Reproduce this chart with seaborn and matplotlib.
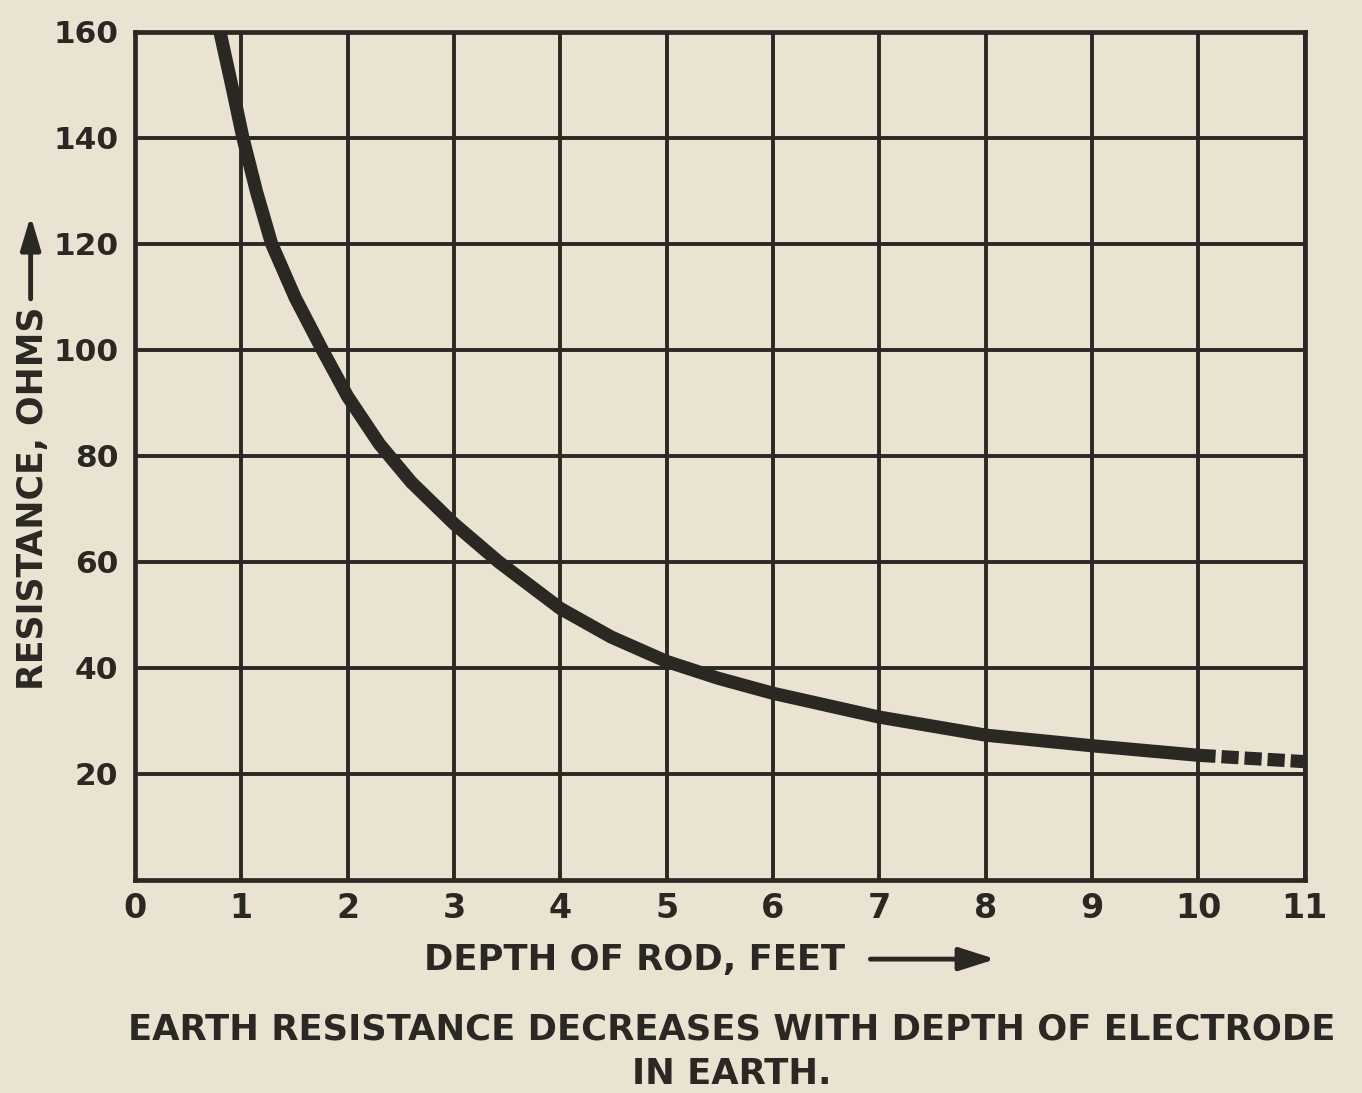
import matplotlib
matplotlib.use("Agg")
import matplotlib.pyplot as plt
from matplotlib.patches import FancyArrowPatch
import seaborn as sns
import pandas as pd

# Earth resistance vs. rod depth (solid part of the curve)
depth_ft = [0.80, 0.915, 1.016, 1.143, 1.286, 1.508, 1.762, 2.00, 2.30, 2.60,
            3.00, 3.42, 4.00, 4.48, 5.00, 5.49, 6.00, 7.00, 8.00, 9.00, 10.00]
resistance_ohms = [160, 149.5, 140, 129.9, 120, 109.8, 100, 91.2, 82.2, 75.0,
                   67.2, 60, 51.2, 45.8, 41.2, 38.0, 35.2, 30.7, 27.3, 25.3, 23.5]

# Extrapolated tail, drawn dashed
tail_depth_ft = [10.0, 10.5, 11.0]
tail_resistance_ohms = [23.5, 22.9, 22.3]

x_ticks = list(range(0, 12))
y_ticks = [20, 40, 60, 80, 100, 120, 140, 160]

paper = "#ebe3d2"
ink = "#2b2824"

sns.set_theme(style="ticks")
plt.rcParams["font.family"] = ["DejaVu Sans"]
plt.rcParams["font.weight"] = "bold"

fig = plt.figure(figsize=(13.62, 10.93), dpi=100, facecolor=paper)
ax = fig.add_axes([0.099, 0.195, 0.859, 0.776])
ax.set_facecolor(paper)

solid = pd.DataFrame({"depth": depth_ft, "resistance": resistance_ohms})
tail = pd.DataFrame({"depth": tail_depth_ft, "resistance": tail_resistance_ohms})

sns.lineplot(data=solid, x="depth", y="resistance", ax=ax, color=ink,
             linewidth=9.5, solid_capstyle="butt", solid_joinstyle="round",
             sort=False, zorder=5)
sns.lineplot(data=tail, x="depth", y="resistance", ax=ax, color=ink,
             linewidth=9.5, sort=False, zorder=5)
ax.lines[-1].set_linestyle((0, (1.3, 0.45)))
ax.lines[-1].set_dash_capstyle("butt")

ax.set_xlim(0, 11)
ax.set_ylim(0, 160)
ax.set_xticks(x_ticks)
ax.set_yticks(y_ticks)
ax.set_xticklabels([str(v) for v in x_ticks], fontsize=24, fontweight="bold", color=ink)
ax.set_yticklabels([str(v) for v in y_ticks], fontsize=22.5, fontweight="bold", color=ink)
ax.tick_params(axis="x", length=0, pad=9)
ax.tick_params(axis="y", length=0, pad=12)
ax.grid(True, color=ink, linewidth=2.8)
ax.set_axisbelow(True)
for side in ["left", "right", "top", "bottom"]:
    ax.spines[side].set_visible(True)
    ax.spines[side].set_color(ink)
    ax.spines[side].set_linewidth(3.4)
ax.set_xlabel("")
ax.set_ylabel("")

# Axis titles with arrows
fig.text(0.311, 0.122, "DEPTH OF ROD, FEET", fontsize=25.5, fontweight="bold",
         color=ink, ha="left", va="center")
fig.add_artist(FancyArrowPatch(
    (0.637, 0.1225), (0.733, 0.1225), transform=fig.transFigure,
    arrowstyle="-|>,head_length=22,head_width=7", color=ink, linewidth=3.5,
    mutation_scale=1))

fig.text(0.024, 0.369, "RESISTANCE, OHMS", fontsize=25, fontweight="bold",
         color=ink, ha="center", va="bottom", rotation=90)
fig.add_artist(FancyArrowPatch(
    (0.0225, 0.724), (0.0225, 0.805), transform=fig.transFigure,
    arrowstyle="-|>,head_length=20,head_width=6", color=ink, linewidth=3.5,
    mutation_scale=1))

fig.text(0.537, 0.0585, "EARTH RESISTANCE DECREASES WITH DEPTH OF ELECTRODE",
         fontsize=25.5, fontweight="bold", color=ink, ha="center", va="center")
fig.text(0.537, 0.0175, "IN EARTH.",
         fontsize=25.5, fontweight="bold", color=ink, ha="center", va="center")

fig.savefig("out.png", dpi=100, facecolor=paper)
